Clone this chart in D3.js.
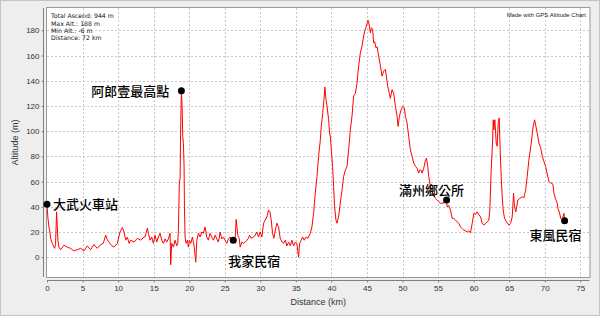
<!DOCTYPE html>
<html>
<head>
<meta charset="utf-8">
<script src="https://cdn.jsdelivr.net/npm/d3@7"></script>
<style>
  html, body { margin: 0; padding: 0; background: #eeeeee; }
  svg { display: block; }
</style>
</head>
<body>
<svg id="chart" width="600" height="316"></svg>
<script>
// ---------- data ----------
const distanceKm = [
  0, 0.13, 0.27, 0.41, 0.5, 0.74, 1.07, 1.2, 1.35, 1.54, 1.68, 1.91, 2.38, 2.85, 3.32, 3.79, 4.26, 4.73, 5.2, 5.66,
  6.14, 6.6, 7.07, 7.55, 7.92, 8.25, 8.48, 8.72, 8.95, 9.42, 9.89, 10.27, 10.6, 10.83, 11.07, 11.3, 11.54, 11.77, 12.24, 12.71,
  13.18, 13.65, 13.79, 14.12, 14.26, 14.49, 14.73, 14.96, 15.2, 15.43, 15.66, 15.9, 16.14, 16.37, 16.6, 16.84, 17.07, 17.31, 17.4, 17.54,
  17.78, 18.01, 18.25, 18.39, 18.48, 18.62, 18.72, 18.81, 18.9, 19.0, 19.09, 19.19, 19.28, 19.33, 19.42, 19.56, 19.75, 19.89, 20.03, 20.22,
  20.45, 20.69, 20.92, 21.07, 21.3, 21.54, 21.77, 22.0, 22.24, 22.47, 22.7, 22.94, 23.18, 23.41, 23.65, 23.88, 24.11, 24.35, 24.58, 24.82,
  25.05, 25.29, 25.52, 25.75, 25.99, 26.2, 26.47, 26.61, 26.84, 27.03, 27.17, 27.4, 27.64, 27.87, 28.11, 28.34, 28.48, 28.72, 29.05, 29.28,
  29.52, 29.75, 29.99, 30.22, 30.46, 30.69, 30.92, 31.16, 31.35, 31.54, 31.72, 31.91, 32.1, 32.33, 32.57, 32.8, 33.04, 33.27, 33.51, 33.74,
  33.98, 34.21, 34.45, 34.68, 34.92, 35.15, 35.38, 35.53, 35.76, 35.95, 36.18, 36.42, 36.7, 37.03, 37.26, 37.5, 37.73, 37.97, 38.2, 38.44,
  38.58, 38.77, 38.95, 39.09, 39.24, 39.38, 39.61, 39.75, 39.85, 39.99, 40.17, 40.31, 40.45, 40.64, 40.78, 41.01, 41.25, 41.49, 41.72, 41.96,
  42.19, 42.42, 42.66, 42.9, 43.13, 43.37, 43.6, 43.83, 44.07, 44.31, 44.54, 44.77, 45.01, 45.15, 45.29, 45.48, 45.62, 45.8, 45.94, 46.08,
  46.28, 46.42, 46.65, 46.89, 47.12, 47.35, 47.59, 47.73, 47.92, 48.15, 48.29, 48.53, 48.76, 49.0, 49.24, 49.38, 49.56, 49.8, 50.03, 50.27,
  50.41, 50.64, 50.87, 51.11, 51.35, 51.58, 51.82, 52.05, 52.28, 52.42, 52.62, 52.76, 52.99, 53.23, 53.37, 53.55, 53.69, 53.93, 54.16, 54.39,
  54.63, 54.87, 55.1, 55.34, 55.8, 56.18, 56.28, 56.51, 56.75, 56.98, 57.21, 57.45, 57.69, 57.92, 58.16, 58.39, 58.62, 58.86, 59.09, 59.32,
  59.56, 59.8, 60.03, 60.27, 60.5, 60.73, 60.97, 61.21, 61.44, 61.68, 61.91, 62.14, 62.28, 62.47, 62.66, 62.76, 62.85, 62.99, 63.18, 63.32,
  63.46, 63.6, 63.74, 63.88, 64.02, 64.16, 64.35, 64.63, 64.96, 65.2, 65.43, 65.62, 65.76, 65.94, 66.22, 66.51, 66.84, 67.07, 67.31, 67.54,
  67.77, 68.11, 68.34, 68.58, 68.76, 68.95, 69.18, 69.42, 69.66, 69.89, 70.13, 70.36, 70.6, 70.83, 71.15, 71.3, 71.54, 71.77, 71.86, 72.1,
  72.24, 72.47, 72.7, 72.8
];
const altitudeM = [
  42, 31, 24, 20, 15, 11, 7, 10, 36, 13.5, 8, 6, 9.5, 8, 7, 5, 6, 7, 5, 9,
  6, 10, 7, 10, 11, 17.5, 14, 12, 10, 8, 11, 20, 23.6, 20, 13.5, 16, 11, 13.5, 12, 15,
  13.5, 16, 16, 23, 19, 13.5, 16, 11, 17.5, 12, 16, 19, 13.5, 11, 14.5, 12, 14.5, 19, -6, 11,
  8, 13.5, 9, 11, 21.5, 61, 62, 106, 132, 120, 96, 90, 72, 40, 16, 11, 13.5, 8, 13.5, 11,
  16, 9, -4, 13.5, 19, 16, 20, 19, 24, 16, 13.5, 19, 16, 13.5, 17.5, 14.5, 12, 20, 14.5, 16,
  13.5, 11, 14.5, 16, 13.5, 13.5, 16, 30, 17, 15, 8, 12, 11, 12, 13.5, 15, 17.5, 15, 16, 17.5,
  20, 16, 20, 16, 27, 29.5, 32, 37.4, 36, 29.5, 19, 15, 21, 27, 24, 15, 12, 11, 13.5, 9,
  12, 9, 13.5, 9, 12, 11, 0, 11, 13.5, 16, 13.5, 16, 15, 19, 24, 35, 50.7, 64, 80, 93,
  104, 114, 125, 135, 125, 120, 109, 98.5, 96, 85, 72, 56, 40, 29.5, 27, 32, 43, 53, 64, 69,
  72, 85, 101, 112, 128, 130, 138, 151.6, 162, 167.5, 175.5, 181, 185, 188, 185, 178, 182, 181, 170, 171,
  166, 167, 159.5, 151.6, 143.6, 147.6, 149, 143.6, 135.6, 130, 126, 133, 130, 119.7, 111.7, 103.8, 111.7, 117, 119.7, 118.4,
  111.7, 106.5, 95.8, 85, 80, 74.6, 72, 70.6, 66.7, 69, 69, 66.7, 70.6, 77, 78.6, 72, 64, 56, 52, 49.4,
  46.7, 45.4, 44, 42.8, 43, 45.4, 40, 41, 37.4, 30.8, 30.8, 29.5, 28, 26.8, 24, 22.8, 21.5, 21, 20, 21,
  19.4, 26.8, 34.8, 34, 36, 34, 32, 26.8, 25.5, 26.8, 28, 29.5, 37.4, 69, 90.6, 109, 101, 109, 90.6, 88,
  106.5, 110.5, 85, 64, 48, 37.4, 30.8, 28, 25.5, 26.8, 32, 50.7, 40, 36, 45.4, 46.7, 48, 47, 53, 64,
  77, 90.6, 102.5, 109, 104, 98.5, 90.6, 87, 80, 76, 72, 66, 60, 59, 58, 50.7, 46, 42.8, 38.8, 35,
  30.8, 29.5, 34.8, 29
];

const placeNames = ["大武火車站", "阿郎壹最高點", "我家民宿", "滿州鄉公所", "東風民宿"];
const placeKm    = [0, 18.9, 26.2, 56.2, 72.8];
const placeAlt   = [42, 132, 13.5, 45.4, 29];

const xTicks = [0, 5, 10, 15, 20, 25, 30, 35, 40, 45, 50, 55, 60, 65, 70, 75];
const yTicks = [0, 20, 40, 60, 80, 100, 120, 140, 160, 180];
const infoLines = ["Total Ascend: 944 m", "Max Alt.: 188 m", "Min Alt.: -6 m", "Distance: 72 km"];
const creditText = "Made with GPS Altitude Chart";
const xTitle = "Distance (km)";
const yTitle = "Altitude (m)";

// ---------- layout ----------
const W = 600, H = 316;
const plot = { left: 47, right: 589.5, top: 8, bottom: 277 };
const latin = "'Liberation Sans', Arial, sans-serif";
const small = "'DejaVu Sans', sans-serif";
const cjk = "'Noto Sans CJK TC', 'Noto Sans CJK SC', sans-serif";

const svg = d3.select("#chart");
svg.append("rect").attr("x", 0.5).attr("y", 0.5).attr("width", W - 1).attr("height", H - 1)
  .attr("fill", "#eeeeee").attr("stroke", "#c4c4c4");

const x = d3.scaleLinear().domain([0, 76.3]).range([plot.left, plot.right]);
const y = d3.scaleLinear().domain([-15.7, 197.7]).range([plot.bottom, plot.top]);

// plot background
svg.append("rect").attr("x", plot.left).attr("y", plot.top)
  .attr("width", plot.right - plot.left).attr("height", plot.bottom - plot.top)
  .attr("fill", "#ffffff");

// grid
const grid = svg.append("g").attr("stroke", "#c8c8c8").attr("stroke-width", 1).attr("stroke-dasharray", "2,2");
grid.selectAll("line.v").data(xTicks.filter(d => d > 0)).join("line").attr("class", "v")
  .attr("x1", d => Math.round(x(d)) + 0.5).attr("x2", d => Math.round(x(d)) + 0.5)
  .attr("y1", plot.top).attr("y2", plot.bottom);
grid.selectAll("line.h").data(yTicks).join("line").attr("class", "h")
  .attr("y1", d => Math.round(y(d)) + 0.5).attr("y2", d => Math.round(y(d)) + 0.5)
  .attr("x1", plot.left).attr("x2", plot.right);

// plot outline
svg.append("rect").attr("x", plot.left - 0.5).attr("y", plot.top - 0.5)
  .attr("width", plot.right - plot.left + 1).attr("height", plot.bottom - plot.top + 1)
  .attr("fill", "none").attr("stroke", "#9a9a9a").attr("stroke-width", 1);

// axes
const yAxis = d3.axisLeft(y).tickValues(yTicks).tickSize(2).tickPadding(2).tickFormat(d3.format("d"));
const gy = svg.append("g").attr("transform", `translate(${plot.left - 3.5},0)`).call(yAxis);
gy.select(".domain").attr("d", `M0,${plot.top}V${plot.bottom}`).attr("stroke", "#808080");
gy.selectAll(".tick line").attr("stroke", "#808080");
gy.selectAll(".tick text").attr("font-family", latin).attr("font-size", 8).attr("fill", "#333");

const xAxis = d3.axisBottom(x).tickValues(xTicks).tickSize(2).tickPadding(3).tickFormat(d3.format("d"));
const gx = svg.append("g").attr("transform", `translate(0,${plot.bottom + 3.5})`).call(xAxis);
gx.select(".domain").attr("d", `M${plot.left},0H${plot.right}`).attr("stroke", "#808080");
gx.selectAll(".tick line").attr("stroke", "#808080");
gx.selectAll(".tick text").attr("font-family", latin).attr("font-size", 8).attr("fill", "#333");

// axis titles
svg.append("text").attr("x", (plot.left + plot.right) / 2).attr("y", 305)
  .attr("text-anchor", "middle").attr("font-family", latin).attr("font-size", 9).attr("fill", "#333")
  .text(xTitle);
svg.append("text").attr("transform", `translate(18,${(plot.top + plot.bottom) / 2}) rotate(-90)`)
  .attr("text-anchor", "middle").attr("font-family", latin).attr("font-size", 9).attr("fill", "#333")
  .text(yTitle);

// line
svg.append("clipPath").attr("id", "clip").append("rect")
  .attr("x", plot.left).attr("y", plot.top).attr("width", plot.right - plot.left).attr("height", plot.bottom - plot.top);
const pts = distanceKm.map((d, i) => [d, altitudeM[i]]);
svg.append("path").datum(pts)
  .attr("clip-path", "url(#clip)")
  .attr("fill", "none").attr("stroke", "#ff0000").attr("stroke-width", 1).attr("stroke-linejoin", "round")
  .attr("d", d3.line().x(d => x(d[0])).y(d => y(d[1])));

// info box
svg.append("g").selectAll("text").data(infoLines).join("text")
  .attr("x", 51).attr("y", (d, i) => 18.3 + i * 7.2)
  .attr("font-family", small).attr("font-size", 6.2).attr("fill", "#111")
  .text(d => d);

svg.append("text").attr("x", 586).attr("y", 16.5).attr("text-anchor", "end")
  .attr("font-family", latin).attr("font-size", 6).attr("fill", "#222").text(creditText);

// place markers & labels
const labelStyle = [
  { dx: 6, dy: 5, anchor: "start" },
  { dx: -12, dy: 5, anchor: "end" },
  { dx: -5, dy: 26, anchor: "start" },
  { dx: -15, dy: -5, anchor: "middle" },
  { dx: -9, dy: 19, anchor: "middle" }
];
const places = placeNames.map((n, i) => ({ name: n, km: placeKm[i], alt: placeAlt[i], s: labelStyle[i] }));
const pg = svg.append("g");
pg.selectAll("circle").data(places).join("circle")
  .attr("cx", d => x(d.km)).attr("cy", d => y(d.alt)).attr("r", 3.5).attr("fill", "#000");
pg.selectAll("text").data(places).join("text")
  .attr("x", d => x(d.km) + d.s.dx).attr("y", d => y(d.alt) + d.s.dy)
  .attr("text-anchor", d => d.s.anchor)
  .attr("font-family", cjk).attr("font-size", 13).attr("font-weight", 500).attr("fill", "#000")
  .text(d => d.name);
</script>
</body>
</html>
